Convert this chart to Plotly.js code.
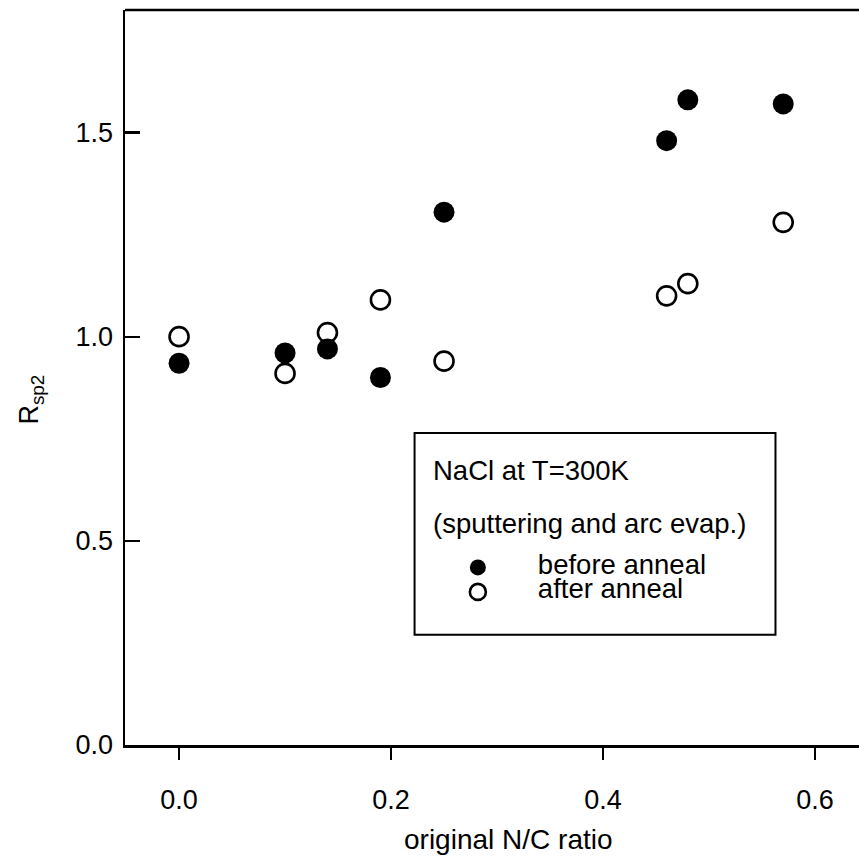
<!DOCTYPE html>
<html>
<head>
<meta charset="utf-8">
<script src="https://cdn.plot.ly/plotly-3.0.1.min.js"></script>
<style>html,body{margin:0;padding:0;background:#fff;}#chart{width:859px;height:857px;}</style>
</head>
<body>
<div id="chart"></div>
<script>
// N/C ratio values
const ratio = [0.0, 0.10, 0.14, 0.19, 0.25, 0.46, 0.48, 0.57];
// R_sp2 before anneal (filled)
const beforeAnneal = [0.935, 0.96, 0.97, 0.90, 1.305, 1.48, 1.58, 1.57];
// R_sp2 after anneal (open)
const afterAnneal = [1.00, 0.91, 1.01, 1.09, 0.94, 1.10, 1.13, 1.28];
const xTicks = [0.0, 0.2, 0.4, 0.6];
const xTickLabels = ['0.0', '0.2', '0.4', '0.6'];
const yTicks = [0.0, 0.5, 1.0, 1.5];
const yTickLabels = ['0.0', '0.5', '1.0', '1.5'];

const font = 'Liberation Sans, Arial, sans-serif';
const big = (s) => '<span style="font-size:27.5px">' + s + '</span>';

const traces = [
  {
    x: ratio, y: afterAnneal, type: 'scatter', mode: 'markers', name: big('after anneal'),
    marker: {symbol: 'circle-open', size: 19, color: '#000', line: {width: 2.6, color: '#000'}},
    legendrank: 2
  },
  {
    x: ratio, y: beforeAnneal, type: 'scatter', mode: 'markers', name: big('before anneal'),
    marker: {symbol: 'circle', size: 21, color: '#000'},
    legendrank: 1
  }
];

const layout = {
  width: 859, height: 857,
  margin: {l: 125, r: 0, t: 10, b: 112},
  paper_bgcolor: '#fff', plot_bgcolor: '#fff',
  font: {family: font, size: 27, color: '#000'},
  showlegend: true,
  legend: {
    x: 0.399, y: 0.265, xanchor: 'left', yanchor: 'top',
    bgcolor: 'rgba(0,0,0,0)', borderwidth: 0,
    font: {family: font, size: 16.5, color: '#000'},
    itemwidth: 110, tracegroupgap: 0
  },
  xaxis: {
    range: [-0.051, 0.6415],
    tickvals: xTicks, ticktext: xTickLabels,
    ticks: 'outside', ticklen: 12, tickwidth: 2.2, tickcolor: '#000',
    showline: true, linecolor: '#000', linewidth: 2.5,
    mirror: false, showgrid: false, zeroline: false,
    tickfont: {family: font, size: 27},
    ticklabelstandoff: 17
  },
  yaxis: {
    range: [0, 1.8],
    tickvals: yTicks, ticktext: yTickLabels,
    ticks: 'inside', ticklen: 15, tickwidth: 2.2, tickcolor: '#000',
    showline: true, linecolor: '#000', linewidth: 2.5,
    showgrid: false, zeroline: false,
    tickfont: {family: font, size: 27},
    ticklabelstandoff: 4
  },
  shapes: [
    {type: 'line', xref: 'paper', yref: 'paper', x0: 0, x1: 1, y0: 1, y1: 1, line: {color: '#000', width: 2.5}},
    {type: 'rect', xref: 'x', yref: 'y', x0: 0.2222, x1: 0.5627, y0: 0.270, y1: 0.764, line: {color: '#000', width: 2}, fillcolor: 'rgba(0,0,0,0)', layer: 'below'}
  ],
  annotations: [
    {xref: 'x', yref: 'y', x: 0.2375, y: 0.672, xanchor: 'left', yanchor: 'middle', text: 'NaCl at T=300K', showarrow: false, font: {family: font, size: 27.5}},
    {xref: 'x', yref: 'y', x: 0.2375, y: 0.543, xanchor: 'left', yanchor: 'middle', text: '(sputtering and arc evap.)', showarrow: false, font: {family: font, size: 27.5}},
    {xref: 'paper', yref: 'paper', x: 0.522, y: -0.128, xanchor: 'center', yanchor: 'middle', text: 'original N/C ratio', showarrow: false, font: {family: font, size: 28}},
    {xref: 'paper', yref: 'paper', x: -0.128, y: 0.47, xanchor: 'center', yanchor: 'middle', textangle: -90, text: 'R<sub>sp2</sub>', showarrow: false, font: {family: font, size: 27}}
  ]
};

Plotly.newPlot('chart', traces, layout, {displayModeBar: false, staticPlot: true});
</script>
</body>
</html>
